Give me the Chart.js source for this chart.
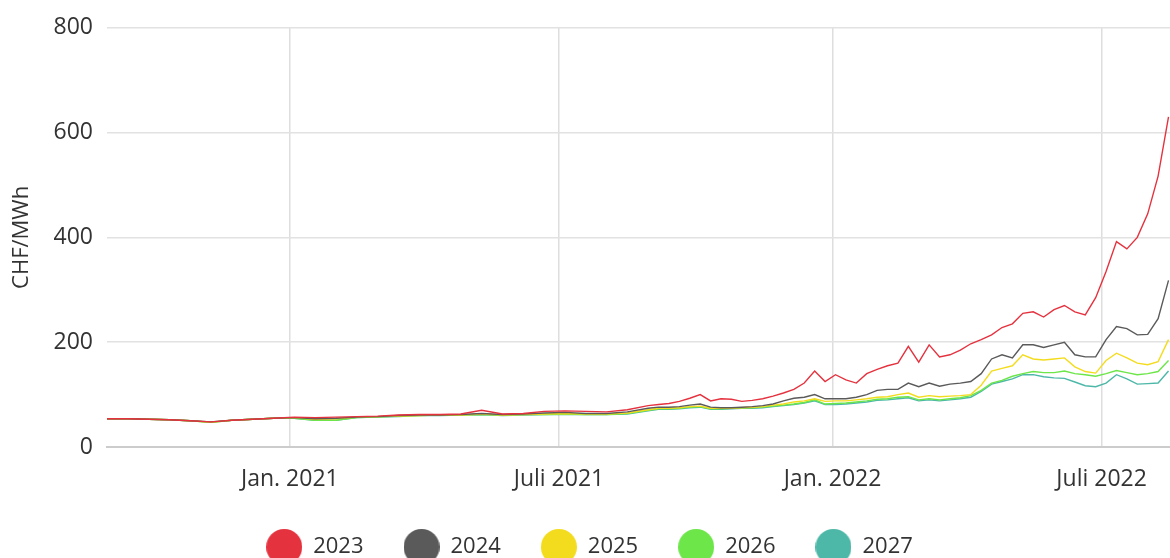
<!DOCTYPE html>
<html>
<head>
<meta charset="utf-8">
<script src="https://cdn.jsdelivr.net/npm/chart.js@4"></script>
<style>
  html, body { margin: 0; padding: 0; background: #fff; overflow: hidden; }
  #wrap { width: 1170px; height: 568px; position: relative; }
</style>
</head>
<body>
<div id="wrap"><canvas id="priceChart"></canvas></div>
<script>
// weekly / bi-weekly sample dates
const dates = [
    '2020-08-31','2020-09-14','2020-09-28','2020-10-12','2020-10-26','2020-11-09','2020-11-23','2020-12-07','2020-12-21',
    '2021-01-04','2021-01-18','2021-02-01','2021-02-15','2021-03-01','2021-03-15','2021-03-29','2021-04-12','2021-04-26',
    '2021-05-10','2021-05-24','2021-06-07','2021-06-21','2021-07-05','2021-07-19','2021-08-02','2021-08-16','2021-08-30',
    '2021-09-06','2021-09-13','2021-09-20','2021-09-27','2021-10-04','2021-10-11','2021-10-18','2021-10-25','2021-11-01',
    '2021-11-08','2021-11-15','2021-11-22','2021-11-29','2021-12-06','2021-12-13','2021-12-20','2021-12-27',
    '2022-01-03','2022-01-10','2022-01-17','2022-01-24','2022-01-31','2022-02-07','2022-02-14','2022-02-21','2022-02-28',
    '2022-03-07','2022-03-14','2022-03-21','2022-03-28','2022-04-04','2022-04-11','2022-04-18','2022-04-25','2022-05-02',
    '2022-05-09','2022-05-16','2022-05-23','2022-05-30','2022-06-06','2022-06-13','2022-06-20','2022-06-27','2022-07-04',
    '2022-07-11','2022-07-18','2022-07-25','2022-08-01','2022-08-08','2022-08-15'
];

const y2023 = [
    54, 54, 53, 52, 50, 48, 51, 53, 55, 57, 56, 57, 58, 59, 61, 62, 62, 63, 70, 63, 64, 68, 69, 68, 67, 71, 79,
    81, 83, 87, 93, 100, 88, 92, 91, 87, 89, 92, 97, 103, 110, 122, 145, 125,
    138, 128, 122, 140, 148, 155, 160, 192, 162, 195, 172, 176, 185, 197, 205, 214, 228, 235, 255, 258, 248, 262, 270,
    258, 252, 285, 335, 392, 378, 400, 445, 517, 630
];
const y2024 = [
    54, 54, 53, 52, 50, 48, 51, 53, 55, 56, 54, 55, 57, 58, 60, 61, 61, 62, 64, 62, 63, 65, 66, 64, 64, 67, 74,
    76, 76, 77, 80, 82, 76, 75, 75, 76, 77, 79, 82, 88, 93, 95, 100, 92,
    92, 92, 95, 100, 108, 110, 110, 122, 115, 122, 116, 120, 122, 125, 140, 168, 176, 170, 195, 195, 190, 195, 200,
    176, 172, 172, 205, 230, 226, 214, 215, 245, 318
];
const y2025 = [
    54, 54, 53, 52, 50, 47, 51, 53, 55, 56, 53, 54, 57, 58, 59, 60, 61, 61, 63, 61, 62, 63, 64, 63, 63, 65, 71,
    74, 74, 75, 77, 78, 74, 74, 74, 75, 76, 77, 80, 82, 86, 88, 92, 87,
    88, 88, 90, 92, 95, 96, 100, 103, 95, 98, 96, 97, 98, 100, 118, 145, 150, 155, 176, 168, 166, 168, 170,
    153, 144, 141, 165, 179, 170, 160, 157, 163, 205
];
const y2026 = [
    54, 54, 53, 52, 50, 47, 51, 53, 55, 55, 51, 51, 56, 57, 59, 60, 61, 61, 62, 61, 62, 62, 63, 62, 62, 64, 70,
    73, 73, 74, 76, 77, 73, 73, 74, 75, 75, 76, 78, 80, 82, 85, 90, 82,
    83, 84, 86, 88, 91, 92, 95, 96, 90, 92, 90, 92, 94, 98, 108, 122, 127, 135, 140, 144, 142, 142, 145,
    140, 138, 135, 140, 146, 142, 138, 140, 144, 165
];
const y2027 = [
    54, 54, 53, 52, 50, 47, 51, 53, 55, 55, 51, 51, 56, 57, 58, 60, 60, 61, 62, 60, 61, 62, 62, 62, 62, 63, 69,
    72, 72, 73, 75, 76, 72, 72, 73, 74, 74, 75, 77, 79, 81, 84, 88, 81,
    81, 82, 84, 86, 89, 90, 92, 94, 88, 90, 88, 90, 92, 95, 106, 120, 125, 130, 138, 138, 134, 132, 131,
    124, 117, 115, 122, 138, 130, 120, 121, 122, 145
];

const tickDates = ['2021-01-01', '2021-07-01', '2022-01-01', '2022-07-01'];
const tickLabels = ['Jan. 2021', 'Juli 2021', 'Jan. 2022', 'Juli 2022'];
const xStart = '2020-08-31';
const xEnd = '2022-08-16';

const DAY = 86400000;
const base = Date.parse('2021-01-01');
const toDay = s => Math.round((Date.parse(s) - base) / DAY);

function legendDot(color) {
    const c = document.createElement('canvas');
    c.width = 36; c.height = 36;
    const g = c.getContext('2d');
    g.fillStyle = color;
    g.beginPath();
    g.arc(18, 18, 18, 0, Math.PI * 2);
    g.fill();
    return c;
}

function series(label, values, color) {
    return {
        label: label,
        data: values.map((v, i) => ({ x: toDay(dates[i]), y: v })),
        borderColor: color,
        backgroundColor: color,
        borderWidth: 1.4,
        pointRadius: 0,
        pointHoverRadius: 0,
        pointStyle: legendDot(color),
        tension: 0
    };
}

const ctx = document.getElementById('priceChart').getContext('2d');
new Chart(ctx, {
    type: 'line',
    data: {
        datasets: [
            series('2023', y2023, '#e5323f'),
            series('2024', y2024, '#5a5a5a'),
            series('2025', y2025, '#f3dc1d'),
            series('2026', y2026, '#6de64a'),
            series('2027', y2027, '#4db8a8')
        ]
    },
    options: {
        responsive: true,
        maintainAspectRatio: false,
        animation: false,
        layout: { padding: { top: 24, right: 0, left: 9, bottom: 0 } },
        scales: {
            x: {
                type: 'linear',
                min: toDay(xStart),
                max: toDay(xEnd),
                afterBuildTicks: scale => {
                    scale.ticks = tickDates.map(d => ({ value: toDay(d) }));
                },
                afterFit: scale => { scale.height = 49; },
                grid: { color: '#dedede', lineWidth: 1.5, drawTicks: false },
                border: { display: true, color: '#cccccc', width: 2 },
                ticks: {
                    color: '#333',
                    font: { family: 'Open Sans', size: 23 },
                    padding: 19,
                    maxRotation: 0,
                    autoSkip: false,
                    callback: (v, i) => tickLabels[i]
                }
            },
            y: {
                min: 0,
                max: 800,
                afterFit: scale => { scale.width = 98; },
                grid: { color: '#e2e2e2', lineWidth: 1.5, drawTicks: false },
                border: { display: false },
                ticks: {
                    stepSize: 200,
                    color: '#333',
                    font: { family: 'Open Sans', size: 23 },
                    padding: 14
                },
                title: {
                    display: true,
                    text: 'CHF/MWh',
                    color: '#333',
                    font: { family: 'Open Sans', size: 22 },
                    padding: { top: 0, bottom: 0 }
                }
            }
        },
        plugins: {
            tooltip: { enabled: false },
            legend: {
                position: 'bottom',
                labels: {
                    usePointStyle: true,
                    pointStyleWidth: 36,
                    color: '#333',
                    font: { family: 'Open Sans', size: 22 },
                    padding: 40
                }
            }
        }
    }
});
</script>
</body>
</html>
